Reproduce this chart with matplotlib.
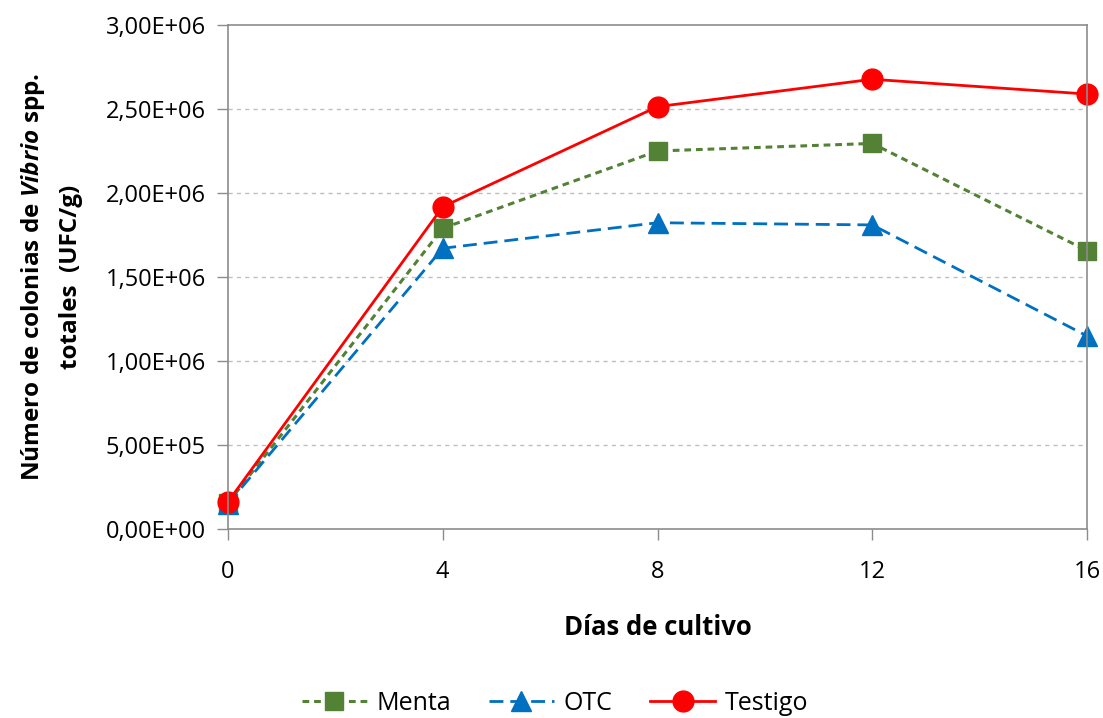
import matplotlib
matplotlib.use("Agg")
import matplotlib.pyplot as plt
from matplotlib.ticker import FuncFormatter

dias = [0, 4, 8, 12, 16]
menta = [1.55e5, 1.79e6, 2.25e6, 2.295e6, 1.657e6]
otc = [1.50e5, 1.671e6, 1.823e6, 1.810e6, 1.149e6]
testigo = [1.62e5, 1.918e6, 2.514e6, 2.677e6, 2.589e6]
yticks = [0, 5e5, 1e6, 1.5e6, 2e6, 2.5e6, 3e6]

plt.rcParams['font.family'] = ['Open Sans', 'DejaVu Sans']
plt.rcParams['mathtext.fontset'] = 'custom'
plt.rcParams['mathtext.it'] = 'Open Sans:italic:bold'
plt.rcParams['mathtext.rm'] = 'Open Sans:bold'
plt.rcParams['mathtext.bf'] = 'Open Sans:bold'

fig = plt.figure(figsize=(11.03, 7.18), dpi=100)
ax = fig.add_axes([228/1103, 1-529/718, (1087-228)/1103, (529-25)/718])

ax.plot(dias, menta, color='#538135', linestyle=(0, (2.2, 1.6)), linewidth=2.2,
        marker='s', markersize=13, label='Menta', clip_on=False)
ax.plot(dias, otc, color='#0070C0', linestyle=(0, (5, 2.5)), linewidth=2.0,
        marker='^', markersize=14, label='OTC', clip_on=False)
ax.plot(dias, testigo, color='#FF0000', linestyle='-', linewidth=2.0,
        marker='o', markersize=15, label='Testigo', clip_on=False)

ax.set_xlim(0, 16)
ax.set_ylim(0, 3e6)
ax.set_xticks(dias)
ax.set_yticks(yticks)
ax.yaxis.set_major_formatter(FuncFormatter(lambda v, p: f"{v:.2E}".replace('.', ',')))
for v in yticks[1:-1]:
    ax.axhline(v, color='#BFBFBF', linestyle=(0, (3, 3)), linewidth=1.0, zorder=0)

for s in ax.spines.values():
    s.set_color('#8C8C8C')
    s.set_linewidth(1.2)
ax.tick_params(axis='both', which='major', direction='out', length=8, width=1.0,
               color='#8C8C8C', labelsize=17, labelcolor='#000000')
ax.tick_params(axis='x', pad=14)
ax.tick_params(axis='y', pad=8)

ax.set_xlabel('Días de cultivo', fontsize=18.5, fontweight='bold', labelpad=22)
fig.text(0.030, 0.615, r'Número de colonias de $Vibrio$ spp.', rotation=90,
         ha='center', va='center', fontsize=17.5, fontweight='bold')
fig.text(0.064, 0.615, 'totales  (UFC/g)', rotation=90,
         ha='center', va='center', fontsize=17.5, fontweight='bold')

leg = fig.legend(loc='center', bbox_to_anchor=(555/1103, 1-703/718), ncol=3,
                 frameon=False, fontsize=18, handlelength=2.6, columnspacing=1.5,
                 handletextpad=0.4)

fig.savefig('out.png', dpi=100)
